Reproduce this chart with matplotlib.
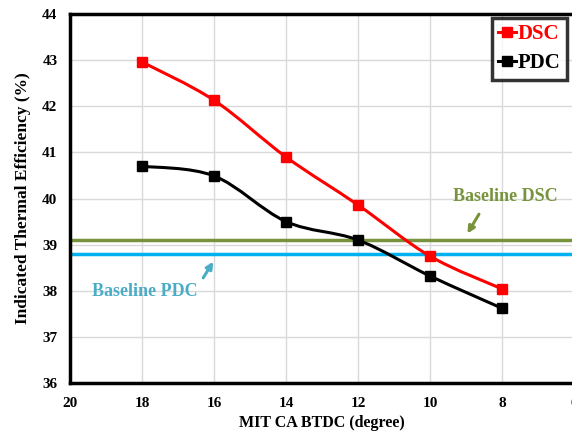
import matplotlib.pyplot as plt
from matplotlib.path import Path
from matplotlib.patches import PathPatch
from matplotlib.lines import Line2D

# Daten
mit_ca = [18, 16, 14, 12, 10, 8]
dsc = [42.96, 42.13, 40.90, 39.86, 38.75, 38.04]
pdc = [40.70, 40.49, 39.50, 39.10, 38.32, 37.62]
baseline_dsc = 39.10
baseline_pdc = 38.80

plt.rcParams['font.family'] = 'Liberation Serif'
plt.rcParams['font.weight'] = 'bold'


def smooth_path(xs, ys):
    # Catmull-Rom als Bezier (wie "geglättete Linie" in Excel)
    pts = list(zip(xs, ys))
    n = len(pts)
    verts = [pts[0]]
    codes = [Path.MOVETO]
    for i in range(n - 1):
        p0 = pts[i - 1] if i > 0 else pts[i]
        p1 = pts[i]
        p2 = pts[i + 1]
        p3 = pts[i + 2] if i + 2 < n else pts[i + 1]
        c1 = (p1[0] + (p2[0] - p0[0]) / 6, p1[1] + (p2[1] - p0[1]) / 6)
        c2 = (p2[0] - (p3[0] - p1[0]) / 6, p2[1] - (p3[1] - p1[1]) / 6)
        verts += [c1, c2, p2]
        codes += [Path.CURVE4] * 3
    return Path(verts, codes)


fig = plt.figure(figsize=(5.72, 4.37), dpi=100)
ax = fig.add_axes([70 / 572, 54 / 437, 504 / 572, 369 / 437])

ax.set_xlim(20, 6)
ax.set_ylim(36, 44)
ax.set_xticks(range(20, 5, -2))
ax.set_yticks(range(36, 45))
ax.grid(True, color='#D9D9D9', linewidth=1)
ax.set_axisbelow(True)
ax.tick_params(axis='both', length=0, labelsize=11)
ax.tick_params(axis='x', pad=10)
ax.tick_params(axis='y', pad=9)
for lab in ax.get_xticklabels() + ax.get_yticklabels():
    lab.set_fontweight('bold')

for side in ['left', 'bottom', 'top', 'right']:
    ax.spines[side].set_linewidth(2.5)
    ax.spines[side].set_color('black')

# Basislinien
ax.axhline(baseline_dsc, color='#77933C', linewidth=2.5, zorder=2)
ax.axhline(baseline_pdc, color='#00B0F0', linewidth=2.5, zorder=2)

# Kurven
for vals, col in [(dsc, '#FF0000'), (pdc, 'black')]:
    ax.add_patch(PathPatch(smooth_path(mit_ca, vals), facecolor='none',
                           edgecolor=col, linewidth=2.2, zorder=3))
    ax.plot(mit_ca, vals, linestyle='none', marker='s', markersize=7.5,
            color=col, zorder=4)

# Beschriftungen der Basislinien
ax.text(7.92, 40.05, 'Baseline DSC', ha='center', va='center',
        fontsize=13, fontweight='bold', color='#77933C')
ax.annotate('', xy=(8.96, 39.24), xytext=(8.64, 39.66),
            arrowprops=dict(arrowstyle='-|>', color='#77933C', lw=2.2,
                            mutation_scale=10, shrinkA=0, shrinkB=0))
ax.text(17.92, 37.99, 'Baseline PDC', ha='center', va='center',
        fontsize=13, fontweight='bold', color='#4BACC6')
ax.annotate('', xy=(16.02, 38.63), xytext=(16.3, 38.28),
            arrowprops=dict(arrowstyle='-|>', color='#4BACC6', lw=2.2,
                            mutation_scale=10, shrinkA=0, shrinkB=0))

ax.set_xlabel('MIT CA BTDC (degree)', fontsize=11.5, fontweight='bold', labelpad=4)
ax.set_ylabel('Indicated Thermal Efficiency (%)', fontsize=12.5, fontweight='bold', labelpad=8)

handles = [Line2D([], [], color='#FF0000', marker='s', markersize=7.5, lw=2.2),
           Line2D([], [], color='black', marker='s', markersize=7.5, lw=2.2)]
leg = ax.legend(handles, ['DSC', 'PDC'], loc='upper right',
                bbox_to_anchor=(497 / 504, 0.99),
                handlelength=0.85, handletextpad=0.1, borderpad=0.3,
                labelspacing=0.45, fancybox=False, borderaxespad=0,
                prop={'family': 'Liberation Serif', 'weight': 'bold', 'size': 15})
leg.get_frame().set_edgecolor('black')
leg.get_frame().set_linewidth(2.5)
leg.get_texts()[0].set_color('#FF0000')

fig.savefig('out.png', dpi=100)
